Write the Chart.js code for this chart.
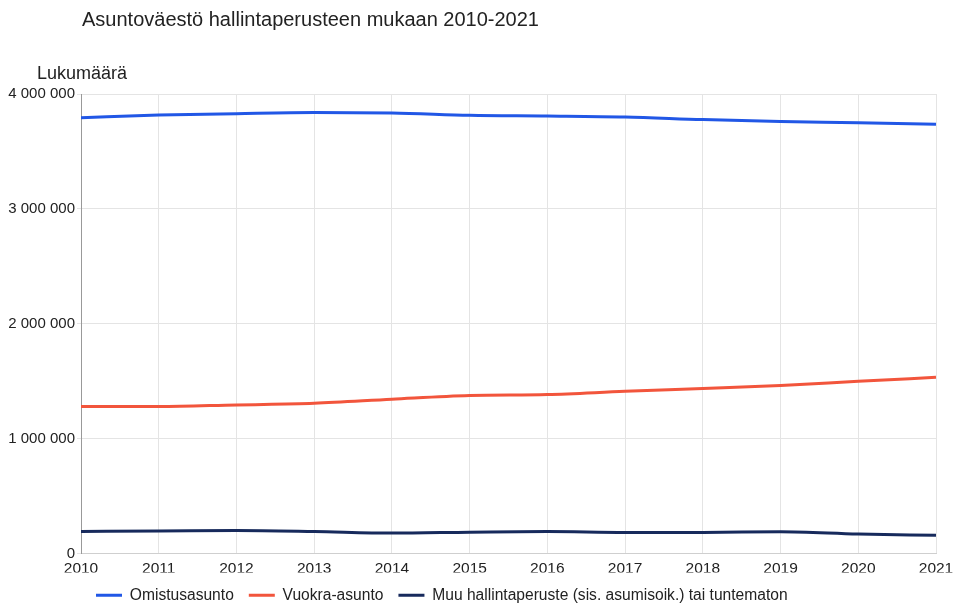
<!DOCTYPE html>
<html lang="fi">
<head>
<meta charset="utf-8">
<title>Asuntoväestö hallintaperusteen mukaan 2010-2021</title>
<script src="https://cdn.jsdelivr.net/npm/chart.js@4"></script>
<style>
  html, body { margin: 0; padding: 0; background: #fff; }
  #wrap { width: 953px; height: 603px; }
</style>
</head>
<body>
<div id="wrap"><canvas id="chart" width="953" height="603"></canvas></div>
<script>
const title = "Asuntoväestö hallintaperusteen mukaan 2010-2021"
const yTitle = "Lukumäärä"

const years = ["2010", "2011", "2012", "2013", "2014", "2015", "2016", "2017", "2018", "2019", "2020", "2021"]
const omistusasunto = [3794000, 3817000, 3829000, 3838000, 3835000, 3815000, 3809000, 3800000, 3777000, 3760000, 3750000, 3736000]
const vuokraAsunto = [1278000, 1278000, 1293000, 1307000, 1342000, 1374000, 1383000, 1411000, 1435000, 1461000, 1498000, 1533000]
const muu = [191000, 194000, 200000, 191000, 177000, 185000, 191000, 183000, 183000, 188000, 168000, 157000]

const FONT = "'Liberation Sans', Arial, sans-serif"

// title and horizontal y-axis title, drawn Google-chart style
const textPlugin = {
  id: "texts",
  afterDraw(chart) {
    const { ctx, chartArea } = chart
    ctx.save()
    ctx.fillStyle = "#222"
    ctx.textBaseline = "middle"
    ctx.textAlign = "left"
    ctx.font = "20px " + FONT
    ctx.fillText(title, 82, 20)
    ctx.font = "18px " + FONT
    ctx.fillText(yTitle, 37, chartArea.top - 20)
    ctx.restore()
  }
}

// push the legend in line with the plot area
const legendShift = {
  id: "legendShift",
  afterLayout(chart) {
    const dx = chart.chartArea.left
    chart.legend.left += dx
    chart.legend.right += dx
  }
}

function series(label, data, color) {
  return {
    label,
    data,
    borderColor: color,
    backgroundColor: color,
    borderWidth: 3,
    pointRadius: 0,
    pointHoverRadius: 0,
    cubicInterpolationMode: "monotone"
  }
}

new Chart(document.getElementById("chart"), {
  type: "line",
  data: {
    labels: years,
    datasets: [
      series("Omistusasunto", omistusasunto, "#2157e6"),
      series("Vuokra-asunto", vuokraAsunto, "#f2553c"),
      series("Muu hallintaperuste (sis. asumisoik.) tai tuntematon", muu, "#172a5c")
    ]
  },
  options: {
    responsive: false,
    animation: false,
    layout: {
      padding: { top: 94, right: 17, left: 0, bottom: -10 }
    },
    scales: {
      x: {
        grid: { color: "#e4e4e4", drawTicks: false },
        border: { color: "#cfcfcf" },
        ticks: { color: "#222", font: { family: FONT, size: 15.5 }, padding: 6, maxRotation: 0, autoSkip: false },
        afterFit: (scale) => {
          scale.height = 19
          scale.paddingLeft = 0
          scale.paddingRight = 0
        }
      },
      y: {
        min: 0,
        max: 4000000,
        grid: { color: "#e4e4e4", tickLength: 4 },
        border: { color: "#999" },
        ticks: {
          stepSize: 1000000,
          color: "#222",
          font: { family: FONT, size: 15 },
          padding: 2,
          callback: (value) => String(value).replace(/\B(?=(\d{3})+(?!\d))/g, " ")
        },
        afterFit: (scale) => { scale.width = 81 }
      }
    },
    plugins: {
      legend: {
        position: "bottom",
        align: "start",
        labels: {
          color: "#222",
          font: { family: FONT, size: 15.6 },
          boxWidth: 26,
          boxHeight: 3,
          padding: 15,
          generateLabels: (chart) =>
            Chart.defaults.plugins.legend.labels.generateLabels(chart).map((item) => ({ ...item, lineWidth: 0 }))
        }
      },
      tooltip: { enabled: false }
    }
  },
  plugins: [textPlugin, legendShift]
})
</script>
</body>
</html>
